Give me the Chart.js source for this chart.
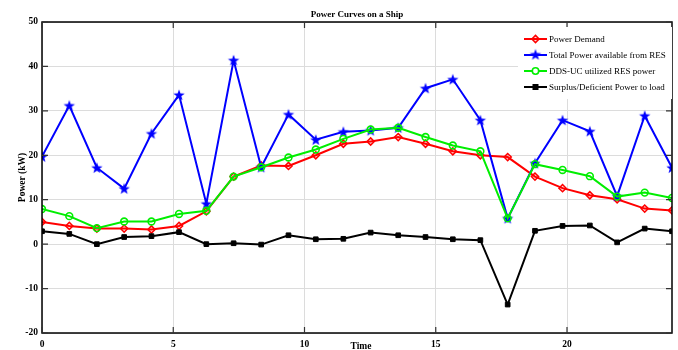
<!DOCTYPE html>
<html>
<head>
<meta charset="utf-8">
<script src="https://cdn.jsdelivr.net/npm/chart.js@4/dist/chart.umd.min.js"></script>
<style>
    html, body { margin: 0; padding: 0; background: #fff; }
    #box { width: 678px; height: 350px; }
</style>
</head>
<body>
<div id="box"><canvas id="myChart"></canvas></div>
<script>
    // dados
    const tempos = [0, 1.04, 2.09, 3.13, 4.17, 5.22, 6.26, 7.3, 8.35, 9.39, 10.43, 11.48,
        12.52, 13.57, 14.61, 15.65, 16.7, 17.74, 18.78, 19.83, 20.87, 21.91, 22.96, 24];
    const demanda = [5.0, 4.1, 3.5, 3.5, 3.3, 4.1, 7.4, 15.2, 17.7, 17.6, 20.0, 22.6,
        23.1, 24.1, 22.6, 20.9, 20.0, 19.6, 15.2, 12.6, 11.0, 10.1, 8.0, 7.6];
    const totalRes = [19.7, 31.2, 17.2, 12.5, 24.9, 33.6, 9.1, 41.4, 17.3, 29.2, 23.5, 25.3,
        25.6, 26.2, 35.1, 37.1, 27.9, 5.8, 18.2, 27.9, 25.4, 10.8, 28.9, 17.2];
    const ddsUc = [7.9, 6.3, 3.6, 5.1, 5.1, 6.8, 7.5, 15.2, 17.3, 19.5, 21.3, 23.7,
        25.8, 26.2, 24.1, 22.2, 20.9, 5.8, 18.0, 16.7, 15.3, 10.7, 11.6, 10.4];
    const sobra = [2.9, 2.3, 0, 1.6, 1.8, 2.7, 0, 0.2, -0.1, 2.0, 1.1, 1.2,
        2.6, 2.0, 1.6, 1.1, 0.9, -13.6, 3.0, 4.1, 4.2, 0.4, 3.5, 2.9];
    const xTicks = [0, 5, 10, 15, 20];
    const yTicks = [-20, -10, 0, 10, 20, 30, 40, 50];

    const fonte = '"Liberation Serif", "Times New Roman", serif';

    // estrela preenchida (marcador do MATLAB)
    function criarEstrela(cor) {
        let c = document.createElement('canvas');
        c.width = 14; c.height = 14;
        let ctx = c.getContext('2d');
        ctx.fillStyle = cor;
        ctx.beginPath();
        for (let i = 0; i < 10; i++) {
            let r = i % 2 == 0 ? 6 : 2.4;
            let a = -Math.PI / 2 + i * Math.PI / 5;
            let px = 7 + r * Math.cos(a), py = 7.5 + r * Math.sin(a);
            if (i == 0) ctx.moveTo(px, py); else ctx.lineTo(px, py);
        }
        ctx.closePath();
        ctx.fill();
        return c;
    }
    const estrela = criarEstrela('#0000ff');

    function pontos(valores) {
        let lista = [];
        for (let i = 0; i < valores.length; i++) {
            lista.push({ x: tempos[i], y: valores[i] });
        }
        return lista;
    }

    const series = [
        { label: 'Power Demand', data: pontos(demanda), borderColor: '#ff0000', backgroundColor: 'rgba(255,0,0,0.15)',
          pointStyle: 'rectRot', pointRadius: 3.6, pointBorderWidth: 1.5, order: 4 },
        { label: 'Total Power available from RES', data: pontos(totalRes), borderColor: '#0000ff', backgroundColor: '#0000ff',
          pointStyle: estrela, order: 3 },
        { label: 'DDS-UC utilized RES power', data: pontos(ddsUc), borderColor: '#00ee00', backgroundColor: 'rgba(0,0,0,0)',
          pointStyle: 'circle', pointRadius: 3.4, pointBorderWidth: 1.6, order: 2 },
        { label: 'Surplus/Deficient Power to load', data: pontos(sobra), borderColor: '#000000', backgroundColor: '#000000',
          pointStyle: 'rect', pointRadius: 3.3, pointBorderWidth: 1, order: 1 }
    ];
    series.forEach(s => { s.borderWidth = 2; s.showLine = true; s.fill = false; s.tension = 0; });

    // desenha caixa, marcas internas, titulos e legenda
    const extras = {
        id: 'extras',
        afterDatasetsDraw(chart) {
            const ctx = chart.ctx;
            const a = chart.chartArea;
            const sx = chart.scales.x, sy = chart.scales.y;
            ctx.save();

            ctx.strokeStyle = '#000';
            ctx.lineWidth = 1.5;
            ctx.strokeRect(a.left, a.top, a.right - a.left, a.bottom - a.top);

            ctx.lineWidth = 1.2;
            ctx.strokeStyle = '#333';
            xTicks.forEach(v => {
                let px = sx.getPixelForValue(v);
                ctx.beginPath();
                ctx.moveTo(px, a.bottom); ctx.lineTo(px, a.bottom - 6);
                ctx.moveTo(px, a.top); ctx.lineTo(px, a.top + 6);
                ctx.stroke();
            });
            yTicks.forEach(v => {
                let py = sy.getPixelForValue(v);
                ctx.beginPath();
                ctx.moveTo(a.left, py); ctx.lineTo(a.left + 6, py);
                ctx.moveTo(a.right, py); ctx.lineTo(a.right - 6, py);
                ctx.stroke();
            });

            // titulos
            ctx.fillStyle = '#000';
            ctx.font = 'bold 9px ' + fonte;
            ctx.textAlign = 'center';
            ctx.textBaseline = 'alphabetic';
            ctx.fillText('Power Curves on a Ship', (a.left + a.right) / 2, 17);
            ctx.font = 'bold 9.5px ' + fonte;
            ctx.fillText('Time', 361, 349);
            ctx.save();
            ctx.translate(25, (a.top + a.bottom) / 2);
            ctx.rotate(-Math.PI / 2);
            ctx.fillText('Power (kW)', 0, 0);
            ctx.restore();

            // legenda dentro do grafico
            ctx.fillStyle = '#fff';
            ctx.fillRect(518, 27, 154, 72);
            let linhas = [series[0], series[1], series[2], series[3]];
            ctx.font = '9px ' + fonte;
            ctx.textAlign = 'left';
            ctx.textBaseline = 'middle';
            linhas.forEach((s, i) => {
                let y = 39 + i * 16;
                ctx.strokeStyle = s.borderColor;
                ctx.lineWidth = 2;
                ctx.beginPath();
                ctx.moveTo(524, y); ctx.lineTo(547, y);
                ctx.stroke();
                let mx = 535.5;
                if (s.pointStyle === estrela) {
                    ctx.drawImage(estrela, mx - 7, y - 7.5);
                } else if (s.pointStyle === 'rectRot') {
                    ctx.lineWidth = 1.5;
                    ctx.beginPath();
                    ctx.moveTo(mx, y - 3.6); ctx.lineTo(mx + 3.6, y); ctx.lineTo(mx, y + 3.6); ctx.lineTo(mx - 3.6, y);
                    ctx.closePath();
                    ctx.fillStyle = s.backgroundColor;
                    ctx.fill();
                    ctx.stroke();
                } else if (s.pointStyle === 'circle') {
                    ctx.lineWidth = 1.6;
                    ctx.fillStyle = '#fff';
                    ctx.beginPath();
                    ctx.arc(mx, y, 3.2, 0, Math.PI * 2);
                    ctx.fill();
                    ctx.stroke();
                } else {
                    ctx.fillStyle = '#000';
                    ctx.fillRect(mx - 3, y - 3, 6, 6);
                }
                ctx.fillStyle = '#000';
                ctx.fillText(s.label, 549, y + 0.5);
            });
            ctx.restore();
        }
    };

    const config = {
        type: 'scatter',
        data: { datasets: series },
        options: {
            responsive: true,
            maintainAspectRatio: false,
            animation: false,
            layout: { padding: { top: 22, right: 4, left: 0, bottom: 0 } },
            plugins: {
                legend: { display: false },
                title: { display: false },
                tooltip: { enabled: false }
            },
            scales: {
                x: {
                    type: 'linear',
                    min: 0,
                    max: 24,
                    afterBuildTicks: s => { s.ticks = xTicks.map(v => ({ value: v })); },
                    afterFit: s => { s.height = 17; },
                    grid: { color: '#dcdcdc', lineWidth: 1, drawTicks: false },
                    border: { display: false },
                    ticks: { color: '#000', padding: 6, font: { family: fonte, size: 9.5, weight: 'bold' } }
                },
                y: {
                    min: -20,
                    max: 50,
                    afterBuildTicks: s => { s.ticks = yTicks.map(v => ({ value: v })); },
                    afterFit: s => { s.width = 42; },
                    grid: { color: '#dcdcdc', lineWidth: 1, drawTicks: false },
                    border: { display: false },
                    ticks: { color: '#000', padding: 4, font: { family: fonte, size: 9.5, weight: 'bold' } }
                }
            }
        },
        plugins: [extras]
    };

    let myChart = new Chart(document.getElementById('myChart'), config);
</script>
</body>
</html>
